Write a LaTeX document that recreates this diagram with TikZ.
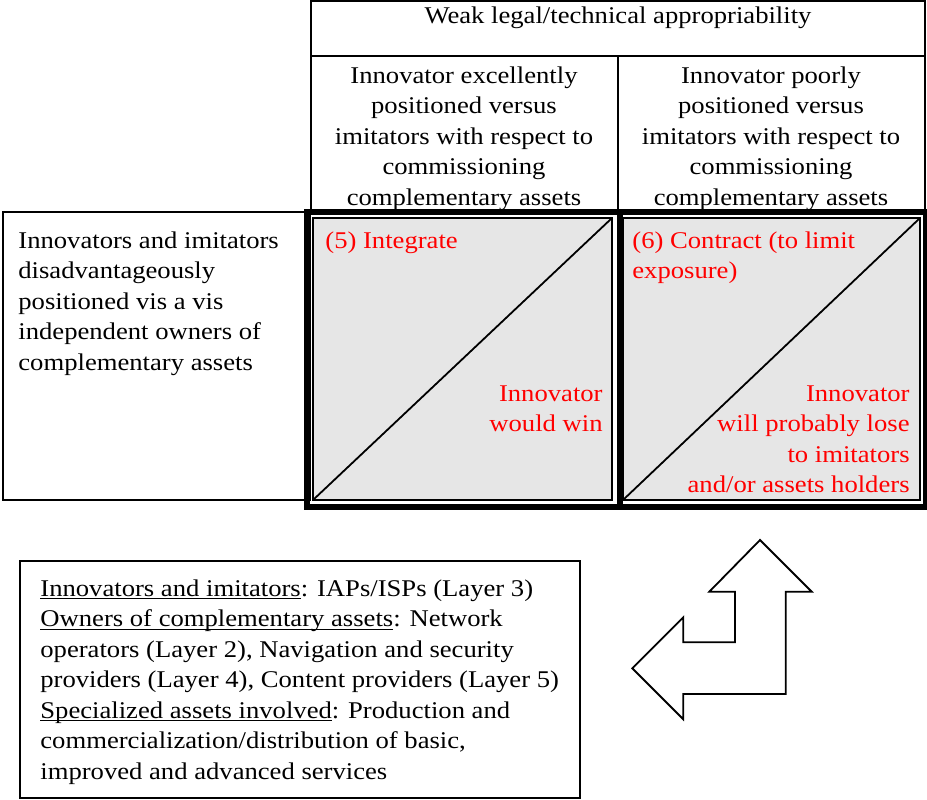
\documentclass[tikz,border=0pt]{standalone}
\usepackage{fontspec}
\setmainfont{Liberation Serif}[FakeStretch=1.11]
\usepackage{xcolor}
\usetikzlibrary{positioning}
\definecolor{cellgray}{RGB}{230,230,230}
\newcommand{\undl}[1]{\underline{\smash{#1}}}

\begin{document}
\begin{tikzpicture}[
    x=0.5pt, y=-0.5pt,
    txt/.style={inner sep=0pt, font=\fontsize{12}{15.25}\selectfont},
    redtxt/.style={txt, text=red},
    border/.style={draw, line width=0.9pt},
    heavy/.style={draw, line width=3pt},
    cell/.style={draw, line width=0.9pt, fill=cellgray}
]
    \useasboundingbox (0,0) rectangle (927,799);

    % Column heads
    \draw[border] (311,1) rectangle (925,212);
    \draw[border] (311,56) -- (925,56);
    \draw[border] (618,56) -- (618,212);
    \node[txt] (weak) at (618,18) {Weak legal/technical appropriability};
    \node[txt, align=center, anchor=north] (excel) at (464,66)
        {Innovator excellently\\positioned versus\\imitators with respect to\\commissioning\\complementary assets};
    \node[txt, align=center, anchor=north] (poor) at (771,66)
        {Innovator poorly\\positioned versus\\imitators with respect to\\commissioning\\complementary assets};

    % Row head
    \draw[border] (3,212) rectangle (310,500);
    \node[txt, align=left, anchor=north west] (disadv) at (18,231)
        {Innovators and imitators\\disadvantageously\\positioned vis a vis\\independent owners of\\complementary assets};

    % Cells
    \coordinate (c5sw) at (313,500);
    \coordinate (c5ne) at (612,218);
    \coordinate (c6sw) at (623,500);
    \coordinate (c6ne) at (920,218);
    \draw[cell] (c5sw) rectangle (c5ne);
    \draw[cell] (c6sw) rectangle (c6ne);
    \draw[border] (c5sw) -- (c5ne);
    \draw[border] (c6sw) -- (c6ne);
    \draw[heavy] (307,212) rectangle (926,507);
    \draw[heavy] (620,212) -- (620,507);

    \node[redtxt, anchor=north west] (integ) at (325,231) {(5) Integrate};
    \node[redtxt, align=right, anchor=north east] (win) at (603,385)
        {Innovator\\would win};
    \node[redtxt, align=left, anchor=north west] (contr) at (632,231)
        {(6) Contract (to limit\\exposure)};
    \node[redtxt, align=right, anchor=north east] (lose) at (910,385)
        {Innovator\\will probably lose\\to imitators\\and/or assets holders};

    % Legend
    \draw[border] (20,561) rectangle (580,798);
    \node[txt, align=left, anchor=north west] (legend) at (40,579)
        {\undl{Innovators and imitators}: IAPs/ISPs (Layer 3)\\
         \undl{Owners of complementary assets}: Network\\
         operators (Layer 2), Navigation and security\\
         providers (Layer 4), Content providers (Layer 5)\\
         \undl{Specialized assets involved}: Production and\\
         commercialization/distribution of basic,\\
         improved and advanced services};

    % Turn arrow
    \draw[border, line join=miter] (760,540) -- (811.7,591.7) -- (785.7,591.7)
        -- (785.7,694) -- (683.3,694) -- (683.3,719.3) -- (632.3,668.3)
        -- (683.3,617.3) -- (683.3,642.3) -- (735,642.3) -- (735,591.7)
        -- (709.3,591.7) -- cycle;
\end{tikzpicture}
\end{document}
